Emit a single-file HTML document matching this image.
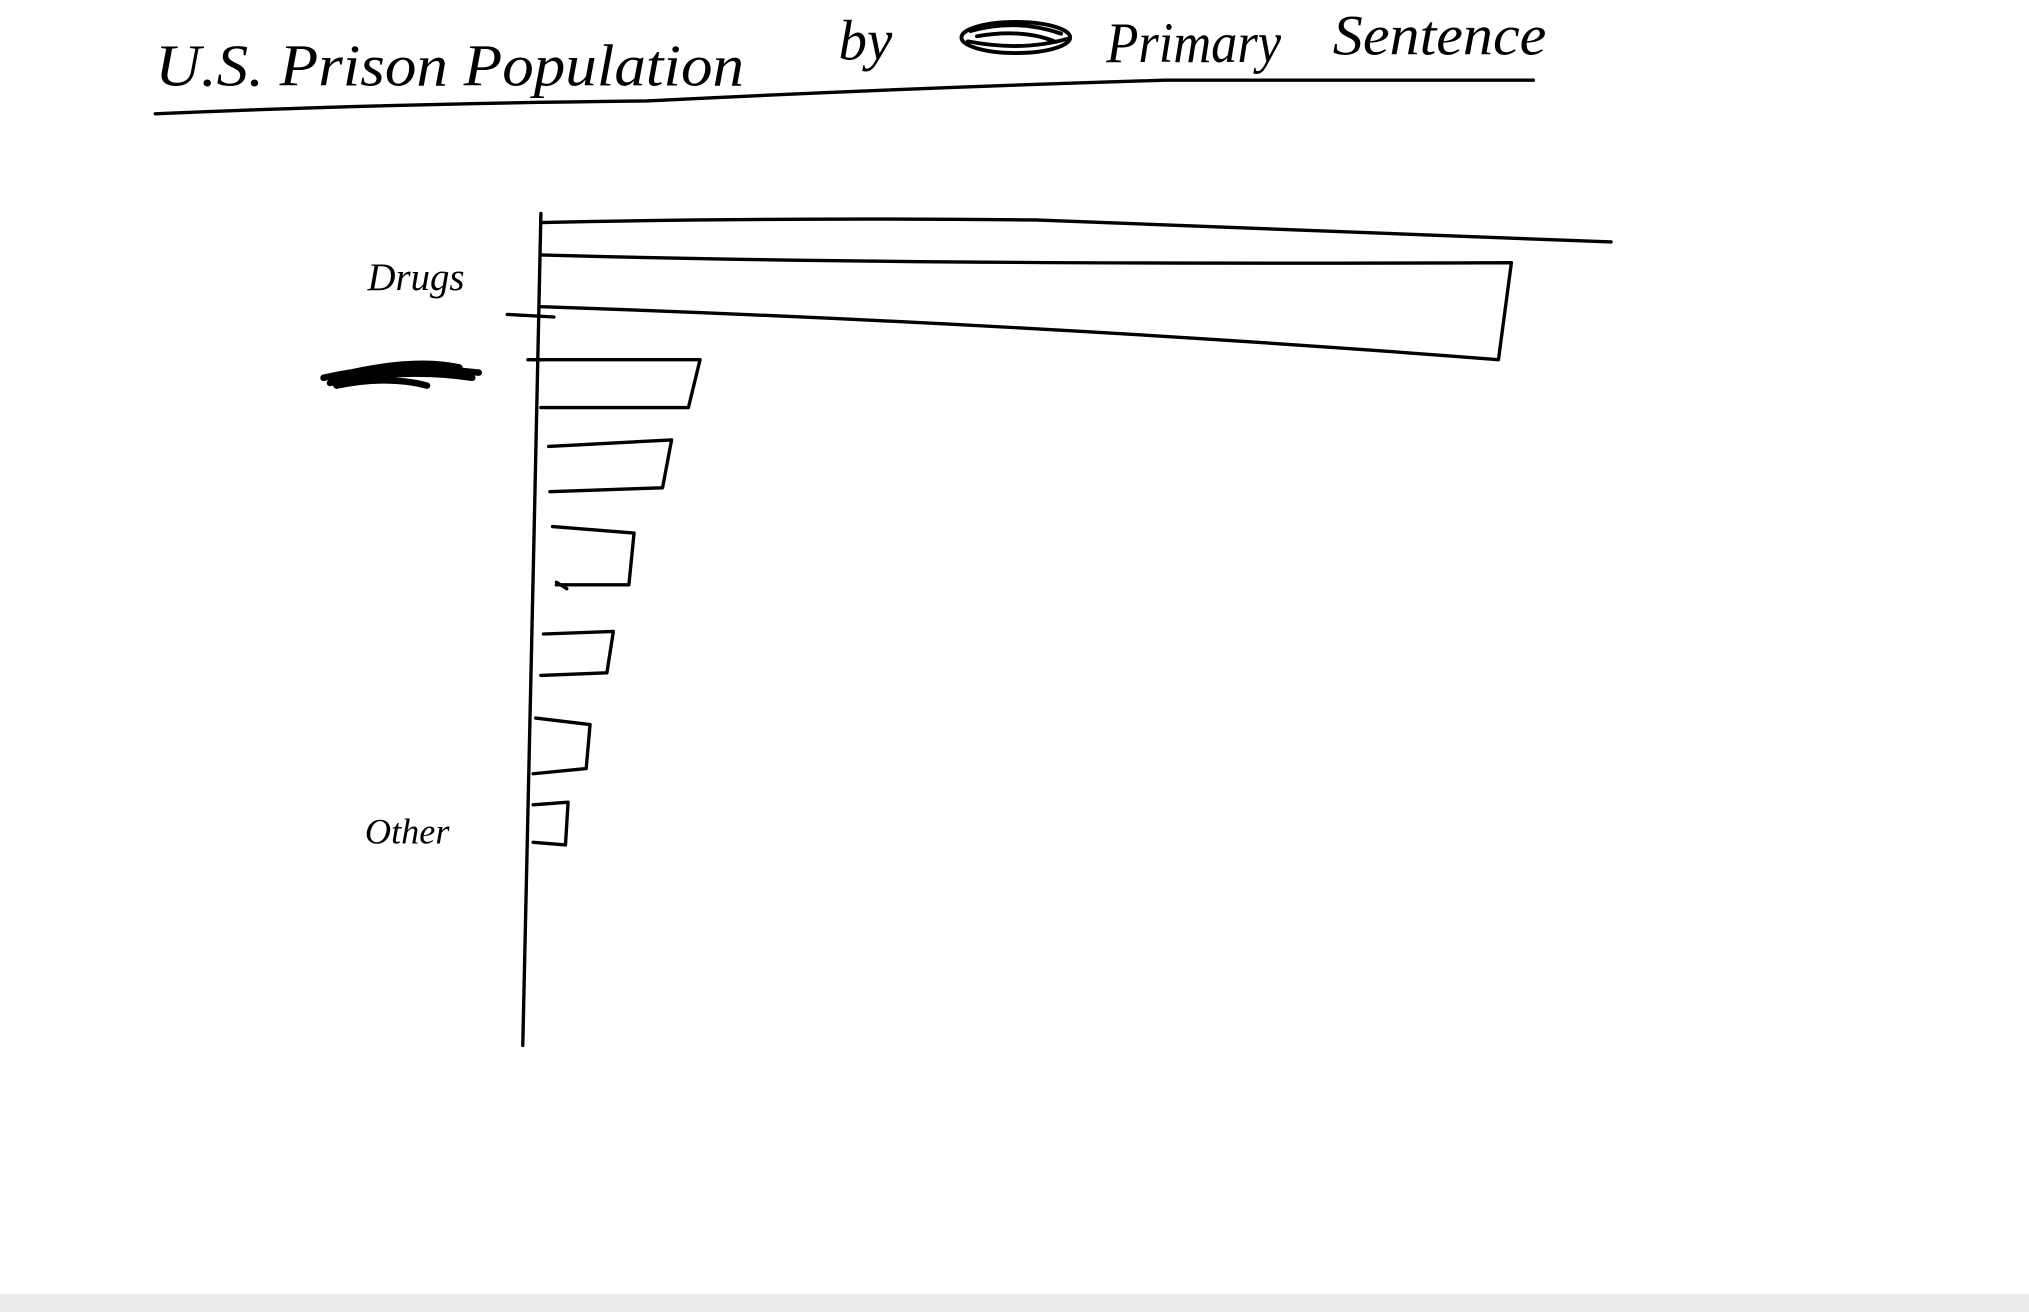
<!DOCTYPE html>
<html><head><meta charset="utf-8"><style>
html,body{margin:0;padding:0;background:#fff;width:2029px;height:1312px;overflow:hidden}
svg{display:block}
text{font-family:"Liberation Serif",serif;font-style:italic;fill:#000}
</style></head><body>
<svg width="2029" height="1312" viewBox="0 0 1568 1014" preserveAspectRatio="none">
<rect width="1568" height="1014" fill="#fff"/>
<rect x="0" y="1000" width="1568" height="14" fill="#ececec"/>
<g fill="none" stroke="#000" stroke-width="2.6" stroke-linecap="round" stroke-linejoin="round">
<path d="M120 88 Q300 80 500 78 Q700 68 900 62 Q1050 62 1185 62"/>
<path d="M418 165 L413 400 L404 808"/>
<path d="M418 172 Q600 168 800 170 Q1000 178 1245 187"/>
<path d="M418 197 Q700 205 1168 203 L1158 278 Q800 250 418 237"/>
<path d="M412 278 L541 278 L532 315 L418 315"/>
<path d="M424 345 L519 340 L512 377 L425 380"/>
<path d="M427 407 L490 412 L486 452 L430 452"/>
<path d="M420 490 L474 488 L469 520 L418 522"/>
<path d="M414 555 L456 560 L453 594 L412 598"/>
<path d="M412 622 L439 620 L437 653 L412 651"/>
<path d="M392 243 L428 245 M408 278 L420 278 M430 450 L438 455"/>
<path d="M250 292 Q300 280 370 288 M255 296 Q310 284 365 292 M262 290 Q320 276 355 284 M260 298 Q300 290 330 298" stroke-width="5"/>
<ellipse cx="785" cy="29" rx="42" ry="12" stroke-width="3"/>
<path d="M750 24 Q785 14 820 26 M748 32 Q790 40 825 30 M755 28 Q790 22 815 32" stroke-width="3"/>
</g>
<text x="120" y="66" font-size="46" textLength="455" lengthAdjust="spacingAndGlyphs">U.S. Prison Population</text>
<text x="648" y="46" font-size="44">by</text>
<text x="855" y="48" font-size="44" textLength="135" lengthAdjust="spacingAndGlyphs">Primary</text>
<text x="1030" y="42" font-size="44" textLength="165" lengthAdjust="spacingAndGlyphs">Sentence</text>
<text x="284" y="224" font-size="30">Drugs</text>
<text x="282" y="652" font-size="28">Other</text>
</svg>
</body></html>
